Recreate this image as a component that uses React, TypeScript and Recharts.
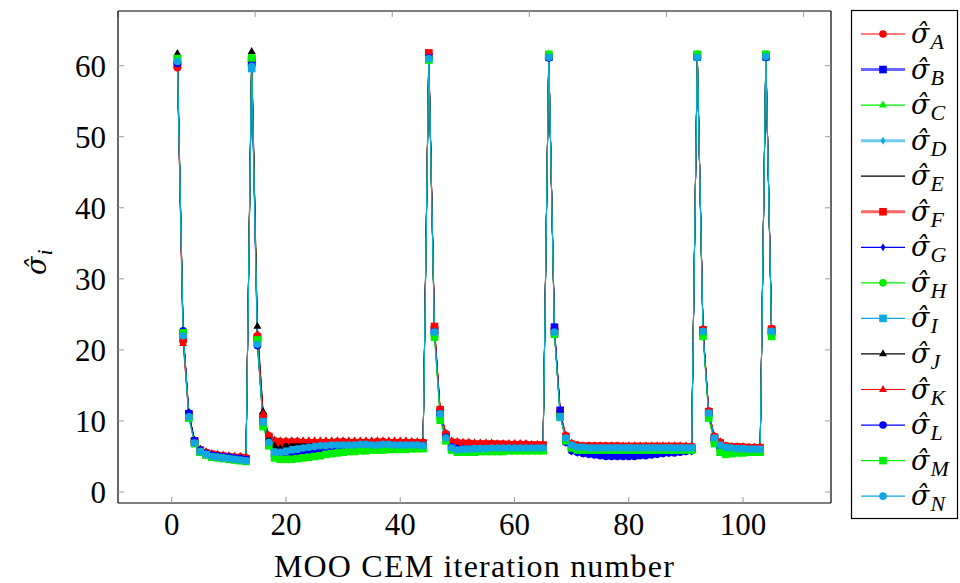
import { Label, Line, LineChart, XAxis, YAxis } from "recharts";

// iteration numbers 1..105 (x categories)
const ITERATIONS = Array.from({ length: 105 }, (_, i) => i + 1);
const X_TICKS = [0, 20, 40, 60, 80, 100];
const Y_TICKS = [0, 10, 20, 30, 40, 50, 60];

// each series: segments of 13 / 31 / 21 / 26 / 12 / 2 points
const SIGMA_A = [
  59.7, 21.2, 10.9, 7.1, 5.9, 5.5, 5.3, 5.2, 5.1, 5.0, 4.9, 4.9, 4.8,
  60.6, 22.0, 10.8, 7.9, 7.2, 7.1, 7.1, 7.1, 7.1, 7.0, 7.0, 7.0, 7.0, 7.0, 7.0, 7.1, 7.1, 7.0, 7.0, 7.0, 7.0, 7.0, 7.1, 7.1, 7.0, 7.0, 7.0, 7.0, 7.0, 6.9, 6.9,
  61.6, 23.2, 11.5, 8.2, 7.1, 7.0, 6.9, 6.9, 6.8, 6.8, 6.8, 6.8, 6.7, 6.7, 6.7, 6.7, 6.7, 6.7, 6.6, 6.6, 6.6,
  61.4, 22.7, 11.3, 7.9, 6.8, 6.6, 6.5, 6.5, 6.5, 6.5, 6.5, 6.5, 6.5, 6.4, 6.4, 6.4, 6.4, 6.4, 6.4, 6.4, 6.4, 6.4, 6.4, 6.4, 6.4, 6.4,
  61.4, 22.9, 11.4, 7.8, 7.0, 6.5, 6.4, 6.4, 6.3, 6.3, 6.3, 6.3,
  61.4, 23.0,
];
const SIGMA_B = [
  60.2, 22.4, 11.0, 7.2, 5.8, 5.4, 5.2, 5.1, 5.0, 4.9, 4.8, 4.7, 4.6,
  60.9, 21.6, 10.3, 7.4, 6.3, 6.1, 6.2, 6.3, 6.4, 6.5, 6.6, 6.6, 6.7, 6.7, 6.7, 6.7, 6.8, 6.8, 6.8, 6.8, 6.8, 6.8, 6.8, 6.8, 6.8, 6.8, 6.8, 6.8, 6.8, 6.8, 6.8,
  61.3, 22.8, 11.2, 7.8, 6.5, 6.3, 6.3, 6.3, 6.4, 6.4, 6.4, 6.4, 6.4, 6.4, 6.4, 6.4, 6.4, 6.4, 6.4, 6.4, 6.4,
  61.2, 23.2, 11.5, 7.2, 6.2, 6.0, 6.0, 6.0, 6.0, 6.0, 6.0, 6.0, 6.0, 6.0, 6.0, 6.0, 6.0, 6.0, 6.0, 6.0, 6.0, 6.0, 6.0, 6.0, 6.0, 6.0,
  61.3, 22.7, 11.2, 7.6, 6.5, 6.2, 6.1, 6.1, 6.0, 6.0, 6.0, 6.0,
  61.3, 22.7,
];
const SIGMA_C = [
  60.9, 22.6, 10.7, 6.9, 5.7, 5.3, 5.1, 5.0, 4.9, 4.8, 4.7, 4.6, 4.5,
  61.2, 21.9, 9.6, 6.8, 5.4, 5.2, 5.3, 5.5, 5.7, 5.9, 6.0, 6.1, 6.2, 6.3, 6.3, 6.4, 6.4, 6.4, 6.5, 6.5, 6.5, 6.5, 6.5, 6.5, 6.5, 6.5, 6.5, 6.5, 6.5, 6.5, 6.5,
  61.2, 22.2, 10.5, 7.4, 6.3, 6.0, 5.9, 5.9, 6.0, 6.0, 6.0, 6.0, 6.0, 6.0, 6.0, 6.0, 6.0, 6.0, 6.0, 6.0, 6.0,
  61.5, 22.4, 10.8, 7.4, 6.4, 6.2, 6.1, 6.1, 6.1, 6.1, 6.1, 6.1, 6.1, 6.1, 6.1, 6.1, 6.1, 6.1, 6.1, 6.1, 6.1, 6.1, 6.1, 6.1, 6.1, 6.1,
  61.5, 22.3, 10.8, 7.2, 6.2, 5.9, 5.8, 5.8, 5.8, 5.8, 5.8, 5.8,
  61.5, 22.3,
];
const SIGMA_D = [
  60.5, 22.1, 10.7, 7.0, 5.8, 5.4, 5.1, 5.0, 4.9, 4.8, 4.7, 4.6, 4.5,
  60.3, 21.4, 10.1, 7.3, 6.0, 5.9, 6.0, 6.1, 6.2, 6.3, 6.4, 6.5, 6.5, 6.6, 6.6, 6.6, 6.7, 6.7, 6.7, 6.7, 6.7, 6.7, 6.7, 6.7, 6.7, 6.7, 6.7, 6.7, 6.7, 6.7, 6.7,
  61.2, 22.6, 11.1, 7.7, 6.4, 6.1, 6.1, 6.1, 6.2, 6.2, 6.2, 6.2, 6.3, 6.3, 6.3, 6.3, 6.3, 6.3, 6.3, 6.3, 6.3,
  61.3, 22.6, 10.9, 7.7, 6.6, 6.4, 6.4, 6.4, 6.4, 6.4, 6.4, 6.4, 6.4, 6.4, 6.4, 6.4, 6.4, 6.4, 6.4, 6.4, 6.4, 6.4, 6.4, 6.4, 6.4, 6.4,
  61.3, 22.7, 11.2, 7.6, 6.7, 6.3, 6.2, 6.2, 6.1, 6.1, 6.1, 6.1,
  61.3, 22.7,
];
const SIGMA_E = [
  61.0, 22.3, 10.9, 7.1, 5.9, 5.4, 5.2, 5.1, 5.0, 4.9, 4.8, 4.7, 4.6,
  61.4, 22.8, 11.0, 7.6, 6.6, 6.4, 6.6, 6.7, 6.8, 6.8, 6.9, 6.9, 6.9, 6.9, 6.9, 6.9, 6.9, 6.9, 6.9, 6.9, 6.9, 6.9, 6.9, 6.9, 6.9, 6.9, 6.9, 6.9, 6.9, 6.9, 6.9,
  61.3, 22.7, 11.2, 7.6, 6.2, 5.8, 5.6, 5.6, 5.7, 5.8, 5.9, 6.0, 6.0, 6.1, 6.1, 6.1, 6.1, 6.2, 6.2, 6.2, 6.2,
  61.4, 22.5, 11.0, 7.5, 6.5, 6.2, 6.2, 6.2, 6.2, 6.2, 6.2, 6.2, 6.2, 6.2, 6.2, 6.2, 6.2, 6.2, 6.2, 6.2, 6.2, 6.2, 6.2, 6.2, 6.2, 6.2,
  61.4, 22.5, 11.1, 7.6, 6.6, 6.2, 6.1, 6.1, 6.1, 6.0, 6.0, 6.0,
  61.4, 22.5,
];
const SIGMA_F = [
  60.1, 21.6, 10.8, 7.1, 5.9, 5.5, 5.3, 5.1, 5.0, 4.9, 4.8, 4.8, 4.7,
  60.4, 21.8, 10.6, 7.8, 7.0, 6.9, 6.9, 6.9, 6.9, 6.9, 6.9, 6.9, 6.9, 6.9, 6.9, 6.9, 6.9, 6.9, 6.9, 6.9, 6.9, 6.9, 6.9, 6.9, 6.9, 6.9, 6.9, 6.9, 6.9, 6.9, 6.9,
  61.8, 23.3, 11.6, 8.0, 6.9, 6.8, 6.8, 6.8, 6.7, 6.7, 6.7, 6.7, 6.7, 6.7, 6.6, 6.6, 6.6, 6.6, 6.6, 6.6, 6.6,
  61.4, 22.8, 11.2, 7.8, 6.7, 6.5, 6.4, 6.4, 6.4, 6.4, 6.4, 6.4, 6.4, 6.4, 6.4, 6.4, 6.4, 6.4, 6.4, 6.4, 6.4, 6.4, 6.4, 6.4, 6.3, 6.3,
  61.5, 22.8, 11.3, 7.7, 6.9, 6.4, 6.3, 6.3, 6.3, 6.2, 6.2, 6.2,
  61.5, 22.9,
];
const SIGMA_G = [
  60.4, 22.3, 10.9, 7.2, 5.8, 5.4, 5.2, 5.0, 4.9, 4.8, 4.7, 4.6, 4.5,
  60.8, 21.2, 10.0, 7.0, 5.4, 5.1, 5.0, 5.1, 5.3, 5.5, 5.7, 5.9, 6.1, 6.2, 6.3, 6.4, 6.5, 6.5, 6.6, 6.6, 6.6, 6.6, 6.6, 6.6, 6.6, 6.6, 6.6, 6.6, 6.6, 6.6, 6.6,
  61.2, 22.7, 11.1, 7.9, 6.6, 6.3, 6.2, 6.2, 6.2, 6.2, 6.2, 6.2, 6.2, 6.2, 6.2, 6.2, 6.2, 6.2, 6.2, 6.2, 6.2,
  61.2, 23.0, 11.4, 6.9, 5.7, 5.5, 5.4, 5.3, 5.3, 5.2, 5.2, 5.2, 5.2, 5.2, 5.2, 5.2, 5.3, 5.3, 5.4, 5.4, 5.5, 5.5, 5.6, 5.6, 5.7, 5.7,
  61.3, 22.6, 11.1, 7.5, 6.4, 6.1, 6.0, 6.0, 5.9, 5.9, 5.9, 5.9,
  61.3, 22.6,
];
const SIGMA_H = [
  61.2, 22.5, 10.8, 7.0, 5.7, 5.3, 5.0, 4.9, 4.8, 4.7, 4.6, 4.5, 4.4,
  61.0, 21.7, 9.4, 6.7, 5.2, 4.9, 4.9, 5.0, 5.1, 5.3, 5.4, 5.5, 5.6, 5.7, 5.8, 5.9, 5.9, 6.0, 6.0, 6.0, 6.1, 6.1, 6.1, 6.1, 6.1, 6.1, 6.2, 6.2, 6.2, 6.2, 6.2,
  61.1, 22.0, 10.4, 7.3, 6.1, 5.8, 5.8, 5.8, 5.8, 5.8, 5.9, 5.9, 5.9, 5.9, 5.9, 5.9, 5.9, 5.9, 5.9, 5.9, 5.9,
  61.6, 22.3, 10.7, 7.3, 6.3, 6.0, 6.0, 6.0, 6.0, 6.0, 6.0, 6.0, 6.0, 6.0, 6.0, 6.0, 6.0, 6.0, 6.0, 6.0, 6.0, 6.0, 6.0, 6.0, 6.0, 6.0,
  61.6, 22.1, 10.6, 7.0, 5.9, 5.6, 5.6, 5.6, 5.7, 5.7, 5.7, 5.7,
  61.6, 22.1,
];
const SIGMA_I = [
  60.8, 22.2, 10.5, 6.9, 5.7, 5.3, 5.0, 4.9, 4.8, 4.7, 4.6, 4.5, 4.4,
  59.6, 21.0, 9.9, 7.1, 5.7, 5.7, 5.8, 6.0, 6.1, 6.2, 6.3, 6.4, 6.5, 6.5, 6.6, 6.6, 6.6, 6.6, 6.6, 6.6, 6.6, 6.6, 6.6, 6.6, 6.6, 6.6, 6.6, 6.6, 6.6, 6.6, 6.6,
  60.9, 22.4, 10.9, 7.5, 6.2, 5.9, 5.9, 6.0, 6.0, 6.1, 6.1, 6.1, 6.1, 6.1, 6.1, 6.1, 6.1, 6.2, 6.2, 6.2, 6.2,
  61.2, 22.4, 10.5, 7.5, 6.5, 6.3, 6.2, 6.2, 6.2, 6.2, 6.2, 6.2, 6.2, 6.2, 6.2, 6.2, 6.2, 6.2, 6.2, 6.2, 6.2, 6.2, 6.2, 6.2, 6.2, 6.2,
  61.2, 22.5, 11.0, 7.5, 6.5, 6.2, 6.1, 6.0, 6.0, 6.0, 6.0, 6.0,
  61.2, 22.5,
];
const SIGMA_J = [
  61.7, 22.6, 11.2, 7.3, 6.0, 5.6, 5.3, 5.2, 5.1, 5.0, 4.9, 4.8, 4.7,
  62.0, 23.3, 11.3, 7.6, 6.5, 6.1, 6.6, 6.8, 6.9, 6.9, 7.0, 7.0, 7.0, 7.0, 7.0, 7.0, 7.0, 7.0, 7.0, 7.0, 7.0, 7.0, 7.0, 7.0, 7.0, 7.0, 7.0, 7.0, 7.0, 7.0, 7.0,
  61.3, 22.6, 11.1, 7.6, 6.1, 5.7, 5.5, 5.5, 5.6, 5.7, 5.8, 5.9, 6.0, 6.0, 6.1, 6.1, 6.1, 6.1, 6.1, 6.1, 6.1,
  61.3, 22.5, 10.9, 7.4, 6.4, 6.2, 6.2, 6.2, 6.2, 6.2, 6.2, 6.2, 6.2, 6.2, 6.2, 6.2, 6.2, 6.2, 6.2, 6.2, 6.2, 6.2, 6.2, 6.2, 6.2, 6.2,
  61.3, 22.6, 11.1, 7.6, 6.6, 6.2, 6.1, 6.1, 6.0, 6.0, 6.0, 6.0,
  61.3, 22.6,
];
const SIGMA_K = [
  60.0, 20.9, 10.7, 7.1, 6.0, 5.6, 5.4, 5.3, 5.2, 5.1, 5.0, 5.0, 4.9,
  60.8, 22.2, 11.0, 8.0, 7.3, 7.2, 7.2, 7.2, 7.2, 7.2, 7.2, 7.2, 7.2, 7.2, 7.2, 7.2, 7.2, 7.2, 7.2, 7.2, 7.2, 7.2, 7.2, 7.2, 7.2, 7.2, 7.2, 7.2, 7.1, 7.1, 7.1,
  61.5, 23.0, 11.4, 8.3, 7.2, 7.1, 7.0, 7.0, 6.9, 6.9, 6.9, 6.9, 6.8, 6.8, 6.8, 6.8, 6.8, 6.8, 6.7, 6.7, 6.7,
  61.5, 22.6, 11.2, 8.0, 6.9, 6.6, 6.5, 6.5, 6.5, 6.5, 6.5, 6.5, 6.5, 6.5, 6.5, 6.5, 6.5, 6.5, 6.5, 6.5, 6.5, 6.5, 6.5, 6.5, 6.5, 6.5,
  61.5, 22.8, 11.4, 7.9, 7.1, 6.5, 6.4, 6.4, 6.4, 6.3, 6.3, 6.3,
  61.5, 23.0,
];
const SIGMA_L = [
  60.3, 22.7, 11.1, 7.2, 5.9, 5.4, 5.2, 5.1, 5.0, 4.9, 4.8, 4.7, 4.6,
  60.2, 20.6, 9.7, 6.9, 5.0, 4.8, 4.9, 5.0, 5.1, 5.3, 5.4, 5.6, 5.8, 5.9, 6.1, 6.2, 6.3, 6.3, 6.4, 6.4, 6.4, 6.4, 6.4, 6.4, 6.5, 6.5, 6.5, 6.5, 6.5, 6.5, 6.5,
  61.1, 22.5, 11.0, 7.7, 6.3, 6.0, 6.0, 6.0, 6.0, 6.0, 6.0, 6.0, 6.0, 6.0, 6.1, 6.1, 6.1, 6.1, 6.1, 6.1, 6.1,
  61.1, 22.9, 11.3, 7.0, 5.8, 5.6, 5.4, 5.3, 5.2, 5.1, 5.0, 5.0, 5.0, 5.0, 5.0, 5.0, 5.1, 5.1, 5.2, 5.3, 5.4, 5.5, 5.5, 5.6, 5.7, 5.8,
  61.2, 22.5, 11.0, 7.4, 6.3, 6.0, 5.9, 5.9, 5.9, 5.9, 5.9, 5.9,
  61.2, 22.5,
];
const SIGMA_M = [
  61.0, 22.4, 10.4, 6.8, 5.6, 5.2, 4.9, 4.8, 4.7, 4.6, 4.5, 4.4, 4.3,
  61.1, 21.4, 9.2, 6.5, 4.8, 4.6, 4.6, 4.6, 4.7, 4.8, 4.9, 5.0, 5.1, 5.3, 5.4, 5.5, 5.6, 5.7, 5.7, 5.8, 5.8, 5.9, 5.9, 5.9, 6.0, 6.0, 6.0, 6.0, 6.1, 6.1, 6.1,
  60.8, 21.8, 10.1, 7.2, 5.9, 5.6, 5.6, 5.6, 5.6, 5.7, 5.7, 5.7, 5.7, 5.7, 5.8, 5.8, 5.8, 5.8, 5.8, 5.8, 5.8,
  61.6, 22.2, 10.6, 7.2, 6.2, 5.9, 5.9, 5.9, 5.9, 5.9, 5.9, 5.9, 5.9, 5.9, 5.9, 5.9, 5.9, 5.9, 5.9, 5.9, 5.9, 5.9, 5.9, 5.9, 5.9, 5.9,
  61.6, 21.9, 10.4, 6.8, 5.6, 5.3, 5.4, 5.5, 5.5, 5.6, 5.6, 5.6,
  61.6, 21.9,
];
const SIGMA_N = [
  60.6, 22.0, 10.6, 6.9, 5.7, 5.3, 5.0, 4.9, 4.8, 4.7, 4.6, 4.5, 4.4,
  59.9, 20.8, 9.8, 7.0, 5.6, 5.6, 5.7, 5.9, 6.0, 6.2, 6.3, 6.4, 6.5, 6.5, 6.6, 6.6, 6.6, 6.6, 6.6, 6.7, 6.7, 6.6, 6.6, 6.7, 6.7, 6.6, 6.6, 6.6, 6.6, 6.6, 6.5,
  61.0, 22.5, 11.0, 7.6, 6.2, 5.9, 6.0, 6.0, 6.1, 6.1, 6.1, 6.2, 6.2, 6.2, 6.2, 6.2, 6.2, 6.2, 6.2, 6.2, 6.2,
  61.2, 22.5, 10.6, 7.6, 6.6, 6.3, 6.3, 6.2, 6.2, 6.2, 6.2, 6.2, 6.2, 6.2, 6.2, 6.2, 6.2, 6.2, 6.2, 6.2, 6.2, 6.2, 6.2, 6.2, 6.2, 6.2,
  61.2, 22.6, 11.1, 7.6, 6.6, 6.3, 6.2, 6.1, 6.1, 6.0, 6.0, 6.0,
  61.3, 22.6,
];

const RED = "#ff0000";
const BLUE = "#0000ff";
const GREEN = "#00ee00";
const CYAN = "#10a6e4";
const BLACK = "#000000";

type Marker = "circle" | "square" | "triangle" | "diamond" | "none";

const SERIES: {
  key: string;
  values: number[];
  color: string;
  marker: Marker;
  heavy?: boolean;
}[] = [
  { key: "A", values: SIGMA_A, color: RED, marker: "circle" },
  { key: "B", values: SIGMA_B, color: BLUE, marker: "square", heavy: true },
  { key: "C", values: SIGMA_C, color: GREEN, marker: "triangle" },
  { key: "D", values: SIGMA_D, color: CYAN, marker: "diamond", heavy: true },
  { key: "E", values: SIGMA_E, color: BLACK, marker: "none" },
  { key: "F", values: SIGMA_F, color: RED, marker: "square", heavy: true },
  { key: "G", values: SIGMA_G, color: BLUE, marker: "diamond" },
  { key: "H", values: SIGMA_H, color: GREEN, marker: "circle" },
  { key: "I", values: SIGMA_I, color: CYAN, marker: "square" },
  { key: "J", values: SIGMA_J, color: BLACK, marker: "triangle" },
  { key: "K", values: SIGMA_K, color: RED, marker: "triangle" },
  { key: "L", values: SIGMA_L, color: BLUE, marker: "circle" },
  { key: "M", values: SIGMA_M, color: GREEN, marker: "square" },
  { key: "N", values: SIGMA_N, color: CYAN, marker: "circle" },
];

const FONT = "'Liberation Serif', 'Times New Roman', serif";
const HAT_FONT = "'DejaVu Serif', serif";
const SIGMA_HAT = "\u03c3\u0302";
const X_DOMAIN: [number, number] = [-9.4, 115.4];
const Y_DOMAIN: [number, number] = [-1.55, 67.7];

function markShape(marker: Marker, cx: number, cy: number, color: string, key?: string | number) {
  if (marker === "circle") return <circle key={key} cx={cx} cy={cy} r={3.8} fill={color} />;
  if (marker === "square")
    return <rect key={key} x={cx - 3.8} y={cy - 3.8} width={7.6} height={7.6} fill={color} />;
  if (marker === "triangle")
    return (
      <polygon
        key={key}
        points={`${cx},${cy - 4.6} ${cx - 4},${cy + 2.4} ${cx + 4},${cy + 2.4}`}
        fill={color}
      />
    );
  if (marker === "diamond")
    return (
      <polygon
        key={key}
        points={`${cx},${cy - 4} ${cx + 2.4},${cy} ${cx},${cy + 4} ${cx - 2.4},${cy}`}
        fill={color}
      />
    );
  return <g key={key} />;
}

// σ with a hat, plus a subscript
function SigmaHat({ x, y, sub, transform }: { x: number; y: number; sub: string; transform?: string }) {
  return (
    <text x={x} y={y} transform={transform} fill="#000">
      <tspan fontFamily={HAT_FONT} fontSize={27} fontStyle="italic">
        {SIGMA_HAT}
      </tspan>
      <tspan dx={1} dy={6} fontFamily={FONT} fontSize={22} fontStyle="italic">
        {sub}
      </tspan>
    </text>
  );
}

const rows = ITERATIONS.map((it, i) => {
  const row: Record<string, number> = { it };
  for (const s of SERIES) row[s.key] = s.values[i];
  return row;
});

function LegendBox() {
  const step = 35.55;
  return (
    <svg width={109} height={511} style={{ position: "absolute", left: 850, top: 9 }}>
      <rect x={1.5} y={1.5} width={106} height={508} fill="#fff" stroke="#000" strokeWidth={1.2} />
      {SERIES.map((s, i) => {
        const y = 25 + i * step;
        return (
          <g key={s.key}>
            <line
              x1={11}
              x2={55}
              y1={y}
              y2={y}
              stroke={s.color}
              strokeWidth={s.heavy ? 3 : 1.2}
              strokeOpacity={s.heavy ? 0.6 : 1}
            />
            {markShape(s.marker, 33, y, s.color)}
            <SigmaHat x={61} y={y + 9} sub={s.key} />
          </g>
        );
      })}
    </svg>
  );
}

export default function App() {
  const tickStyle = { fontFamily: FONT, fontSize: 31, fill: "#000" };
  return (
    <div
      style={{ position: "absolute", left: 0, top: 0, width: 960, height: 583, background: "#fff" }}
    >
      <LineChart
        width={960}
        height={583}
        data={rows}
        margin={{ top: 10, right: 128, left: 0, bottom: 0 }}
      >
        <XAxis
          dataKey="it"
          type="number"
          domain={X_DOMAIN}
          ticks={X_TICKS}
          allowDataOverflow
          height={80}
          tick={tickStyle}
          tickSize={-6}
          tickMargin={16}
          tickLine={{ stroke: "#999" }}
          axisLine={{ stroke: "#000", strokeWidth: 1.2 }}
        >
          <Label
            value="MOO CEM iteration number"
            position="insideBottom"
            offset={6}
            style={{ fontFamily: FONT, fontSize: 32, fill: "#000", letterSpacing: 1.2 }}
          />
        </XAxis>
        <XAxis
          xAxisId="top"
          orientation="top"
          type="number"
          domain={X_DOMAIN}
          ticks={X_TICKS}
          allowDataOverflow
          height={1}
          tickFormatter={() => ""}
          tickSize={-6}
          tickLine={{ stroke: "#999" }}
          axisLine={{ stroke: "#000", strokeWidth: 1.2 }}
        />
        <YAxis
          type="number"
          domain={Y_DOMAIN}
          ticks={Y_TICKS}
          allowDataOverflow
          width={118}
          tick={tickStyle}
          tickSize={-6}
          tickMargin={18}
          tickLine={{ stroke: "#999" }}
          axisLine={{ stroke: "#000", strokeWidth: 1.2 }}
        >
          <Label
            content={({ viewBox }: any) => {
              const cy = viewBox ? viewBox.y + viewBox.height / 2 : 257;
              return <SigmaHat x={-18} y={0} sub="i" transform={`translate(46,${cy}) rotate(-90)`} />;
            }}
          />
        </YAxis>
        <YAxis
          yAxisId="right"
          orientation="right"
          type="number"
          domain={Y_DOMAIN}
          ticks={Y_TICKS}
          allowDataOverflow
          width={1}
          tickFormatter={() => ""}
          tickSize={-6}
          tickLine={{ stroke: "#999" }}
          axisLine={{ stroke: "#000", strokeWidth: 1.2 }}
        />
        {SERIES.map((s) => (
          <Line
            key={s.key}
            type="linear"
            dataKey={s.key}
            stroke={s.color}
            strokeWidth={1}
            dot={(p: any) => markShape(s.marker, p.cx, p.cy, s.color, `${s.key}-${p.index}`)}
            activeDot={false}
            isAnimationActive={false}
          />
        ))}
      </LineChart>
      <LegendBox />
    </div>
  );
}
